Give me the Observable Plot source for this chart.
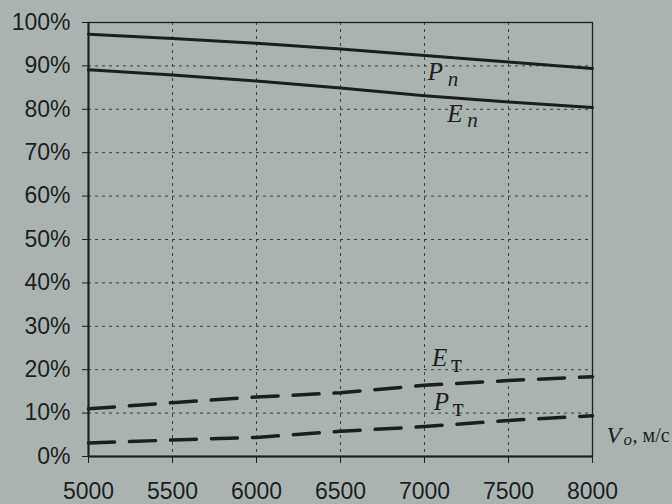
<!DOCTYPE html>
<html><head><meta charset="utf-8">
<script src="https://cdn.jsdelivr.net/npm/d3@7"></script>
<script src="https://cdn.jsdelivr.net/npm/@observablehq/plot@0.6"></script>
<style>
html,body{margin:0;padding:0;background:#abb3b1;}
#c{width:672px;height:504px;}
</style></head><body><div id="c"></div>
<script>
const velocity = [5000, 5500, 6000, 6500, 7000, 7500, 8000];
const Pp = [97.3, 96.3, 95.2, 93.9, 92.4, 90.9, 89.4];
const Ep = [89.1, 87.9, 86.5, 84.9, 83.1, 81.7, 80.4];
const Et = [11.0, 12.4, 13.7, 14.7, 16.4, 17.5, 18.4];
const Pt = [3.1, 3.8, 4.4, 5.8, 6.9, 8.3, 9.4];
const xTicks = [5000, 5500, 6000, 6500, 7000, 7500, 8000];
const yTicks = [0, 10, 20, 30, 40, 50, 60, 70, 80, 90, 100];
const labels = [
  {x: 7020, y: 88.5, main: "P", sub: "п", italicSub: true},
  {x: 7135, y: 79.0, main: "E", sub: "п", italicSub: true},
  {x: 7045, y: 22.8, main: "E", sub: "т", italicSub: false},
  {x: 7055, y: 12.6, main: "P", sub: "т", italicSub: false}
];

const rows = (arr, name) => velocity.map((v, i) => ({v, y: arr[i], s: name}));
const solid = [...rows(Pp, "Pп"), ...rows(Ep, "Eп")];
const dashed = [...rows(Et, "Eт"), ...rows(Pt, "Pт")];
const ink = "#1c1f1f";
const serif = "Liberation Serif, Times New Roman, serif";

const chart = Plot.plot({
  width: 672, height: 504,
  marginLeft: 88, marginRight: 80, marginTop: 22, marginBottom: 48,
  style: {background: "#abb3b1", fontFamily: "Liberation Sans, Arial, sans-serif", fontSize: "23px", color: ink},
  x: {domain: [5000, 8000], ticks: xTicks, tickFormat: d => String(d), label: null},
  y: {domain: [0, 100], ticks: yTicks, tickFormat: d => d + "%", label: null},
  marks: [
    Plot.ruleX(xTicks.slice(1, -1), {stroke: "#3a3f3f", strokeWidth: 1, strokeDasharray: "3,4"}),
    Plot.ruleY(yTicks.slice(1, -1), {stroke: "#3a3f3f", strokeWidth: 1, strokeDasharray: "3,4"}),
    Plot.frame({stroke: ink, strokeWidth: 1.3}),
    Plot.axisX({ticks: xTicks, tickFormat: d => String(d), tickSize: 7, tickPadding: 19, fontSize: 23, fill: ink, stroke: ink}),
    Plot.axisY({ticks: yTicks, tickFormat: d => d + "%", tickSize: 6, tickPadding: 12, fontSize: 23, fill: ink, stroke: ink}),
    Plot.ruleX([5000], {stroke: ink, strokeWidth: 2}),
    Plot.ruleY([0], {stroke: ink, strokeWidth: 2}),
    Plot.line(solid, {x: "v", y: "y", z: "s", stroke: ink, strokeWidth: 3}),
    Plot.line(dashed, {x: "v", y: "y", z: "s", stroke: ink, strokeWidth: 3.5, strokeDasharray: "26,15"}),
    Plot.text(labels, {x: "x", y: "y", text: "main", fontFamily: serif, fontStyle: "italic", fontSize: 25, fill: ink, textAnchor: "start"}),
    Plot.text(labels.filter(d => d.italicSub), {x: "x", y: "y", text: "sub", dx: 20, dy: 7, fontFamily: serif, fontStyle: "italic", fontSize: 21, fill: ink, textAnchor: "start"}),
    Plot.text(labels.filter(d => !d.italicSub), {x: "x", y: "y", text: "sub", dx: 19, dy: 6, fontFamily: serif, fontSize: 25, fill: ink, textAnchor: "start"}),
    Plot.text([{x: 8000, y: 4.8}], {x: "x", y: "y", text: () => "V", dx: 14, fontFamily: serif, fontStyle: "italic", fontSize: 24, fill: ink, textAnchor: "start"}),
    Plot.text([{x: 8000, y: 4.8}], {x: "x", y: "y", text: () => "o", dx: 31, dy: 4, fontFamily: serif, fontStyle: "italic", fontSize: 17, fill: ink, textAnchor: "start"}),
    Plot.text([{x: 8000, y: 4.8}], {x: "x", y: "y", text: () => ", м/с", dx: 40, fontFamily: serif, fontSize: 20, fill: ink, textAnchor: "start"})
  ]
});
document.getElementById("c").appendChild(chart);
</script></body></html>
